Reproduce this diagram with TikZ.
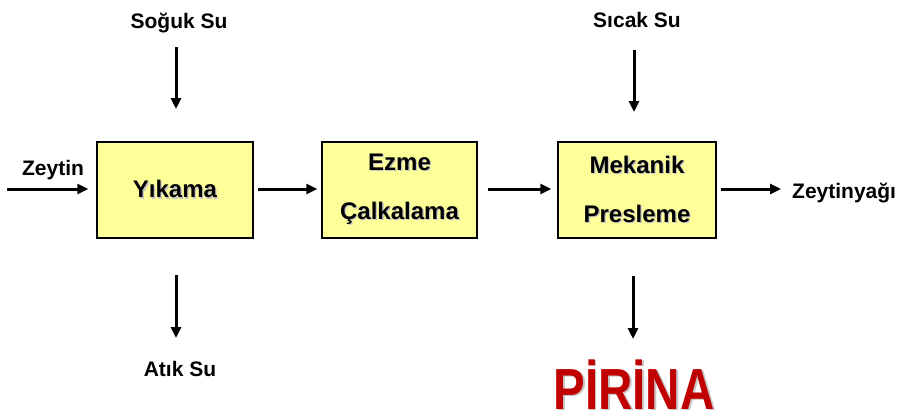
\documentclass[tikz,border=0pt]{standalone}
\usepackage{fontspec}
\setmainfont{Liberation Sans}
\newfontfamily\narrowfont{Liberation Sans}[FakeStretch=0.82]
\usetikzlibrary{arrows.meta}
\definecolor{boxfill}{HTML}{FFFF99}
\definecolor{pirinared}{HTML}{C00000}
% text with a soft grey drop shadow
\newcommand\shadowed[1]{\leavevmode\rlap{\kern1.3pt\raisebox{-1.3pt}{\textcolor{black!22}{#1}}}#1}
\tikzset{
  stagebox/.style={draw=black, line width=1.3pt, fill=boxfill, minimum width=156pt,
    minimum height=96pt, align=center, inner sep=0pt,
    font=\bfseries\fontsize{24}{49}\selectfont},
  flowlabel/.style={anchor=base, inner sep=0pt, font=\bfseries\fontsize{21}{25}\selectfont},
  flow/.style={line width=3pt, -{Triangle[length=11pt,width=10pt]}}
}
\begin{document}
\begin{tikzpicture}[x=1pt, y=-1pt]
  \useasboundingbox (0,0) rectangle (901,418);

  % process stages
  \node[stagebox] (yik) at (175,190) {\shadowed{Yıkama}};
  \node[stagebox, minimum width=155pt] (ezm) at (399.5,190) {\shadowed{Ezme}\\\shadowed{Çalkalama}};
  \node[stagebox, minimum width=158pt] (pre) at (637,190) {\shadowed{Mekanik}\\\shadowed{Presleme}};

  % inputs and outputs
  \node[flowlabel] (zey) at (53,175) {Zeytin};
  \node[flowlabel, anchor=base west] (yag) at (792,198) {Zeytinyağı};
  \node[flowlabel] (sog) at (179,28) {Soğuk Su};
  \node[flowlabel] (sic) at (637,27) {Sıcak Su};
  \node[flowlabel] (atk) at (180,376) {Atık Su};
  \node[anchor=base, inner sep=0pt, text=pirinared,
        font=\narrowfont\bfseries\fontsize{58}{60}\selectfont] (pir) at (634,409)
        {\rlap{\kern1.8pt\raisebox{-1.8pt}{\textcolor{black!22}{PİRİNA}}}PİRİNA};

  % arrow end points
  \coordinate (zeyS) at (7,189);
  \coordinate (a1) at (258,189);
  \coordinate (a2) at (488,189);
  \coordinate (yagS) at (721,189);
  \coordinate (yagE) at (781,189);
  \coordinate (sogS) at (176,47);
  \coordinate (sogE) at (176,109);
  \coordinate (sicS) at (634,50);
  \coordinate (sicE) at (634,112);
  \coordinate (atkS) at (176,275);
  \coordinate (atkE) at (176,338);
  \coordinate (pirS) at (633,276);
  \coordinate (pirE) at (633,339);

  % connectors
  \draw[flow, shorten >=8pt] (zeyS) -- (yik.west |- zeyS);
  \draw[flow, shorten >=4pt] (a1) -- (ezm.west |- a1);
  \draw[flow, shorten >=6pt] (a2) -- (pre.west |- a2);
  \draw[flow] (yagS) -- (yagE);
  \draw[flow] (sogS) -- (sogE);
  \draw[flow] (sicS) -- (sicE);
  \draw[flow] (atkS) -- (atkE);
  \draw[flow] (pirS) -- (pirE);
\end{tikzpicture}
\end{document}
